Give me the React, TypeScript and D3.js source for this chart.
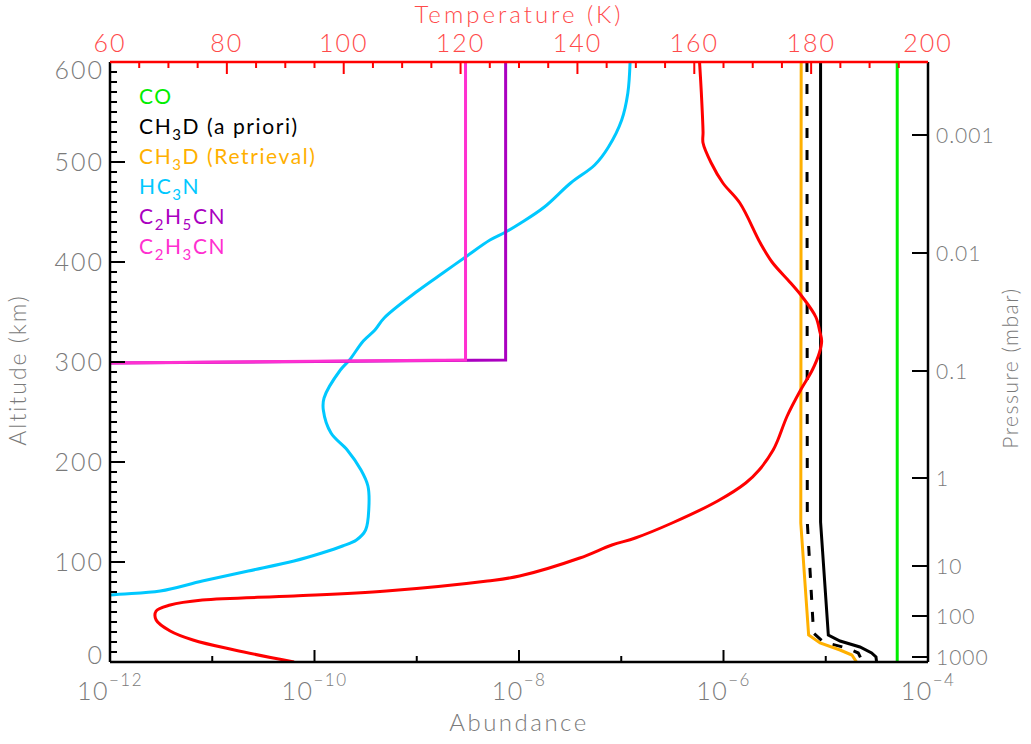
import { useEffect, useRef } from 'react';
import * as d3 from 'd3';

// Temperature profile (altitude km, K) - top axis
const tempAlt = [600, 570, 530, 519, 499, 479, 459, 419, 400, 379, 365, 345, 330, 321, 309, 292, 272, 246, 222, 212, 192, 179, 161, 139, 124, 117, 104, 86, 81, 71, 66, 62, 57, 51, 42, 31, 22, 12, 0];
const tempK = [160.9, 161.2, 161.5, 161.5, 162.9, 164.9, 167.8, 171.3, 173.3, 176.5, 178.5, 180.8, 181.5, 181.8, 181.4, 180.2, 178.2, 175.9, 174.3, 173.5, 171.1, 168.8, 164.0, 156.2, 149.9, 145.9, 140.4, 130.1, 124.6, 107.3, 91.5, 75.8, 70.3, 67.9, 67.9, 70.3, 74.2, 81.3, 91.5];

// HC3N abundance profile
const hc3nAlt = [600, 569, 542, 515, 497, 479, 455, 439, 430, 422, 405, 389, 371, 344, 332, 321, 302, 292, 264, 252, 229, 212, 192, 176, 154, 132, 122, 116, 109, 101, 91, 81, 71, 67, 60];
const hc3nVmr = [1.22e-7, 1.16e-7, 1.01e-7, 7.5e-8, 5.5e-8, 3.2e-8, 1.77e-8, 1.04e-8, 7.4e-9, 5.2e-9, 3.0e-9, 1.8e-9, 1.02e-9, 4.8e-10, 3.9e-10, 3.0e-10, 2.2e-10, 1.79e-10, 1.24e-10, 1.22e-10, 1.45e-10, 2.09e-10, 2.85e-10, 3.33e-10, 3.4e-10, 3.16e-10, 2.57e-10, 1.88e-10, 1.18e-10, 6.3e-11, 2.25e-11, 8.0e-12, 3.1e-12, 1.0e-12, 3e-13];

// CH3D a priori (solid), scaled a priori (dashed), retrieval (orange)
const ch3dPrioriAlt = [600, 140, 27, 21, 15, 9, 5, 0];
const ch3dPrioriVmr = [8.9e-6, 8.9e-6, 1.06e-5, 1.38e-5, 2.16e-5, 2.81e-5, 3.1e-5, 3.14e-5];
const ch3dDashAlt = [600, 140, 29, 20, 14, 9, 0];
const ch3dDashVmr = [6.55e-6, 6.6e-6, 7.6e-6, 9.5e-6, 1.6e-5, 2.08e-5, 2.3e-5];
const ch3dRetAlt = [600, 139, 27, 19, 12, 7, 0];
const ch3dRetVmr = [5.75e-6, 5.7e-6, 6.8e-6, 8.8e-6, 1.38e-5, 1.8e-5, 2.0e-5];

// CO, C2H5CN, C2H3CN
const coAlt = [600, 0];
const coVmr = [5.0e-5, 5.0e-5];
const c2h5cnAlt = [600, 302, 298];
const c2h5cnVmr = [7.4e-9, 7.4e-9, 5e-14];
const c2h3cnAlt = [600, 302, 298];
const c2h3cnVmr = [3.0e-9, 3.0e-9, 5e-14];

// Right axis: pressure labels and their altitudes
const pressureLabels = ['0.001', '0.01', '0.1', '1', '10', '100', '1000'];
const pressureAlt = [527, 409, 291, 184, 96, 46, 5];

const abundanceTicks = [-12, -10, -8, -6, -4];
const temperatureTicks = [60, 80, 100, 120, 140, 160, 180, 200];
const altitudeTicks = [0, 100, 200, 300, 400, 500, 600];

const legendItems = [
  { color: '#00ee00', parts: [['CO', '']] },
  { color: '#000000', parts: [['CH', ''], ['3', 'sub'], ['D (a priori)', '']] },
  { color: '#ffb000', parts: [['CH', ''], ['3', 'sub'], ['D (Retrieval)', '']] },
  { color: '#00c8ff', parts: [['HC', ''], ['3', 'sub'], ['N', '']] },
  { color: '#aa00c0', parts: [['C', ''], ['2', 'sub'], ['H', ''], ['5', 'sub'], ['CN', '']] },
  { color: '#ff30d0', parts: [['C', ''], ['2', 'sub'], ['H', ''], ['3', 'sub'], ['CN', '']] },
];

const FONT = "Lato, 'DejaVu Sans', sans-serif";
const GREY = '#7a7a7a';
const TRED = '#ff4a4a';

function zip(a: number[], b: number[]): [number, number][] {
  return a.map((v, i) => [v, b[i]]);
}

export default function App() {
  const svgRef = useRef<SVGSVGElement>(null);

  useEffect(() => {
    if (!svgRef.current) return;
    const svg = d3.select(svgRef.current);
    svg.selectAll('*').remove();

    const left = 110, right = 928, top = 62, bottom = 662;
    const x = d3.scaleLog().domain([1e-12, 1e-4]).range([left, right]);
    const y = d3.scaleLinear().domain([0, 600]).range([bottom, top]);
    const t = d3.scaleLinear().domain([60, 200]).range([left, right]);

    svg.append('rect').attr('width', 1031).attr('height', 744).attr('fill', '#fff');

    svg.append('defs').append('clipPath').attr('id', 'plot-clip')
      .append('rect')
      .attr('x', left).attr('y', top)
      .attr('width', right - left).attr('height', bottom - top);

    const plot = svg.append('g').attr('clip-path', 'url(#plot-clip)');

    const drawAb = (alt: number[], vmr: number[], color: string, dash?: string, smooth?: boolean) => {
      const gen = d3.line<[number, number]>()
        .x(d => x(d[1]))
        .y(d => y(d[0]))
        .curve(smooth ? d3.curveCatmullRom.alpha(0.5) : d3.curveLinear);
      plot.append('path')
        .attr('d', gen(zip(alt, vmr)))
        .attr('fill', 'none')
        .attr('stroke', color)
        .attr('stroke-width', 3)
        .attr('stroke-dasharray', dash ?? null);
    };

    drawAb(coAlt, coVmr, '#00ee00');
    drawAb(ch3dPrioriAlt, ch3dPrioriVmr, '#000000');
    drawAb(ch3dDashAlt, ch3dDashVmr, '#000000', '10,12');
    drawAb(ch3dRetAlt, ch3dRetVmr, '#ffb000');
    drawAb(hc3nAlt, hc3nVmr, '#00c8ff', undefined, true);
    drawAb(c2h5cnAlt, c2h5cnVmr, '#aa00c0');
    drawAb(c2h3cnAlt, c2h3cnVmr, '#ff30d0');

    // temperature on top axis
    const tLine = d3.line<[number, number]>()
      .x(d => t(d[1]))
      .y(d => y(d[0]))
      .curve(d3.curveCatmullRom.alpha(0.5));
    plot.append('path')
      .attr('d', tLine(zip(tempAlt, tempK)))
      .attr('fill', 'none')
      .attr('stroke', '#ff0000')
      .attr('stroke-width', 3);

    const axes = svg.append('g');

    // bottom axis ticks
    for (let e = -12; e <= -4; e++) {
      const major = e % 2 === 0;
      const xx = x(Math.pow(10, e));
      axes.append('line')
        .attr('x1', xx).attr('x2', xx)
        .attr('y1', bottom).attr('y2', bottom - (major ? 12 : 6))
        .attr('stroke', '#000').attr('stroke-width', 2);
    }
    abundanceTicks.forEach(e => {
      const txt = axes.append('text')
        .attr('x', x(Math.pow(10, e)))
        .attr('y', 700)
        .attr('text-anchor', 'middle')
        .attr('fill', GREY)
        .attr('font-family', FONT)
        .attr('font-weight', 300)
        .attr('font-size', 25)
        .attr('letter-spacing', 1.5);
      txt.append('tspan').text('10');
      txt.append('tspan').attr('dy', -14).attr('font-size', 17).text(`\u2212${-e}`);
    });
    axes.append('text')
      .attr('x', 519).attr('y', 731)
      .attr('text-anchor', 'middle')
      .attr('fill', GREY)
      .attr('font-family', FONT)
      .attr('font-weight', 300)
      .attr('font-size', 24)
      .attr('letter-spacing', 2.5)
      .text('Abundance');

    // top axis (temperature)
    d3.range(60, 201, 5).forEach(v => {
      const major = v % 20 === 0;
      axes.append('line')
        .attr('x1', t(v)).attr('x2', t(v))
        .attr('y1', top).attr('y2', top + (major ? 12 : 6))
        .attr('stroke', '#ff0000').attr('stroke-width', 2);
    });
    temperatureTicks.forEach(v => {
      axes.append('text')
        .attr('x', t(v)).attr('y', 52)
        .attr('text-anchor', 'middle')
        .attr('fill', TRED)
        .attr('font-family', FONT)
        .attr('font-weight', 300)
        .attr('font-size', 25)
        .attr('letter-spacing', 2)
        .text(v);
    });
    axes.append('text')
      .attr('x', 519).attr('y', 23)
      .attr('text-anchor', 'middle')
      .attr('fill', TRED)
      .attr('font-family', FONT)
      .attr('font-weight', 300)
      .attr('font-size', 24)
      .attr('letter-spacing', 3)
      .text('Temperature (K)');

    // left axis (altitude)
    d3.range(0, 601, 10).forEach(v => {
      const major = v % 100 === 0;
      axes.append('line')
        .attr('x1', left).attr('x2', left + (major ? 15 : 7))
        .attr('y1', y(v)).attr('y2', y(v))
        .attr('stroke', '#000').attr('stroke-width', 2);
    });
    altitudeTicks.forEach(v => {
      const cy = Math.min(Math.max(y(v), 70), 655);
      axes.append('text')
        .attr('x', 104).attr('y', cy + 9)
        .attr('text-anchor', 'end')
        .attr('fill', GREY)
        .attr('font-family', FONT)
        .attr('font-weight', 300)
        .attr('font-size', 25)
        .attr('letter-spacing', 2)
        .text(v);
    });
    axes.append('text')
      .attr('transform', 'translate(26,370) rotate(-90)')
      .attr('text-anchor', 'middle')
      .attr('fill', GREY)
      .attr('font-family', FONT)
      .attr('font-weight', 300)
      .attr('font-size', 23)
      .attr('letter-spacing', 2)
      .text('Altitude (km)');

    // right axis (pressure)
    pressureAlt.forEach((a, i) => {
      axes.append('line')
        .attr('x1', right).attr('x2', right - 16)
        .attr('y1', y(a)).attr('y2', y(a))
        .attr('stroke', '#000').attr('stroke-width', 2);
      axes.append('text')
        .attr('x', 936).attr('y', y(a) + 8)
        .attr('fill', GREY)
        .attr('font-family', FONT)
        .attr('font-weight', 300)
        .attr('font-size', 21)
        .attr('letter-spacing', 1)
        .text(pressureLabels[i]);
    });
    axes.append('text')
      .attr('transform', 'translate(1018,368) rotate(-90)')
      .attr('text-anchor', 'middle')
      .attr('fill', GREY)
      .attr('font-family', FONT)
      .attr('font-weight', 300)
      .attr('font-size', 21)
      .attr('letter-spacing', 1.5)
      .text('Pressure (mbar)');

    // frame
    axes.append('line').attr('x1', left).attr('x2', right).attr('y1', bottom).attr('y2', bottom)
      .attr('stroke', '#000').attr('stroke-width', 2.5);
    axes.append('line').attr('x1', left).attr('x2', left).attr('y1', top).attr('y2', bottom)
      .attr('stroke', '#000').attr('stroke-width', 2.5);
    axes.append('line').attr('x1', right).attr('x2', right).attr('y1', top).attr('y2', bottom)
      .attr('stroke', '#000').attr('stroke-width', 2.5);
    axes.append('line').attr('x1', left).attr('x2', right).attr('y1', top).attr('y2', top)
      .attr('stroke', '#ff0000').attr('stroke-width', 2.5);

    // legend
    legendItems.forEach((item, i) => {
      const txt = svg.append('text')
        .attr('x', 139).attr('y', 104 + i * 30)
        .attr('fill', item.color)
        .attr('font-family', FONT)
        .attr('font-size', 21)
        .attr('letter-spacing', 1.6);
      let prevSub = false;
      item.parts.forEach(([s, kind]) => {
        if (kind === 'sub') {
          txt.append('tspan').attr('dy', 6).attr('font-size', 15).text(s);
          prevSub = true;
        } else {
          const span = txt.append('tspan').text(s);
          if (prevSub) span.attr('dy', -6);
          prevSub = false;
        }
      });
    });
  }, []);

  return (
    <svg
      ref={svgRef}
      width={1031}
      height={744}
      style={{ position: 'absolute', left: 0, top: 0 }}
    />
  );
}
